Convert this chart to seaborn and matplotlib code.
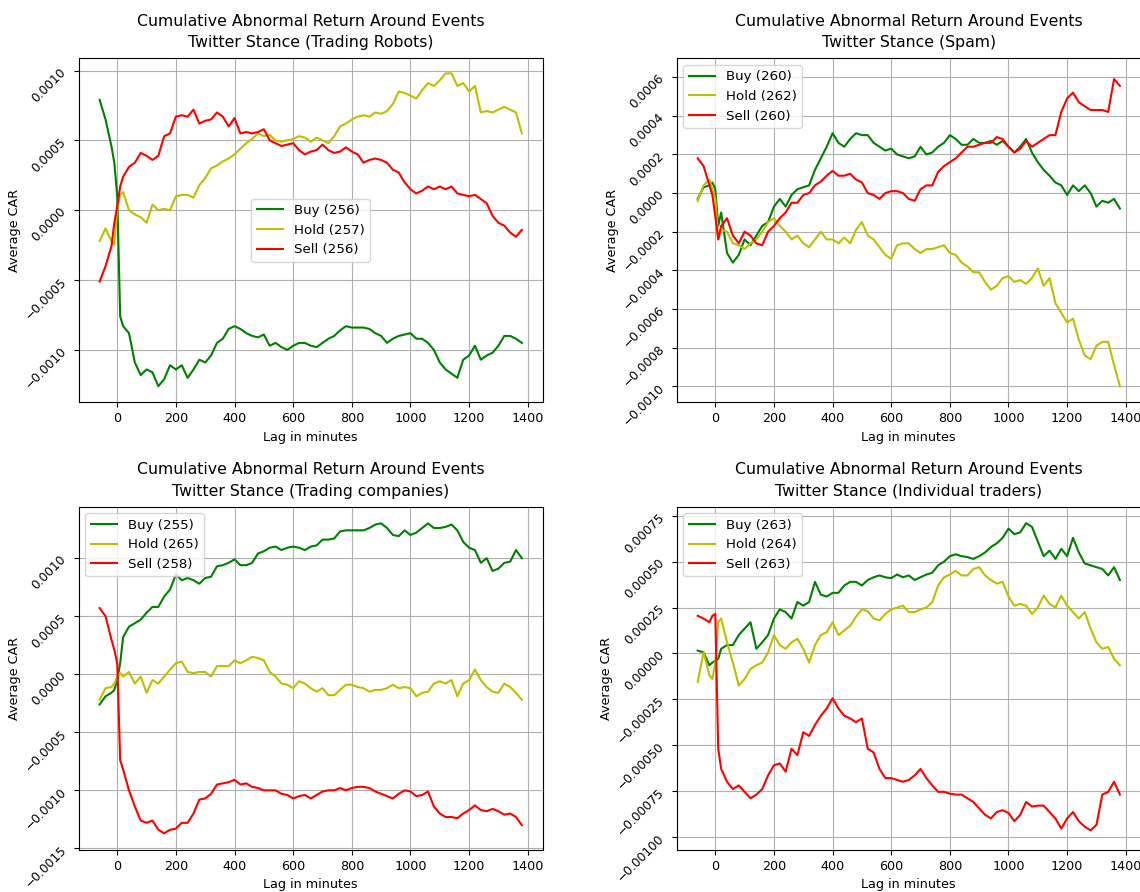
import matplotlib
matplotlib.use("Agg")
import matplotlib.pyplot as plt
import numpy as np
import pandas as pd
import seaborn as sns

lags = [-60, -40, -20, -10, 0, 10] + list(range(20, 1400, 20))

# values in units of 1e-4
robots_buy = [7.9, 6.5, 4.6, 3.4, 1.0, -7.6,
              -8.3, -8.8, -10.9, -11.8, -11.4, -11.6, -12.6, -12.1, -11.1, -11.4,
              -11.1, -12.0, -11.4, -10.7, -10.9, -10.4, -9.5, -9.2, -8.5, -8.3,
              -8.5, -8.8, -9.0, -9.1, -8.9, -9.7, -9.5, -9.8, -10.0, -9.7,
              -9.5, -9.5, -9.7, -9.8, -9.5, -9.2, -9.0, -8.6, -8.3, -8.4,
              -8.4, -8.4, -8.5, -8.8, -9.0, -9.5, -9.2, -9.0, -8.9, -8.8,
              -9.2, -9.2, -9.5, -10.0, -10.9, -11.4, -11.7, -12.0, -10.7, -10.4,
              -9.7, -10.7, -10.4, -10.2, -9.7, -9.0, -9.0, -9.2, -9.5]
robots_hold = [-2.2, -1.3, -2.2, -2.5, 0.2, 1.1,
               1.3, 0.0, -0.3, -0.5, -0.9, 0.4, 0.0, 0.1, 0.0, 1.0,
               1.1, 1.1, 0.9, 1.8, 2.3, 3.0, 3.2, 3.5, 3.7, 4.0,
               4.4, 4.8, 5.1, 5.5, 5.3, 5.4, 5.0, 4.9, 5.0, 5.1,
               5.3, 5.2, 4.9, 5.2, 5.0, 4.8, 5.3, 6.0, 6.2, 6.5,
               6.7, 6.8, 6.7, 7.0, 6.9, 7.1, 7.6, 8.5, 8.4, 8.2,
               8.0, 8.6, 9.1, 8.9, 9.3, 9.8, 9.8, 8.9, 9.1, 8.5,
               8.9, 7.0, 7.1, 7.0, 7.2, 7.4, 7.2, 7.0, 5.5]
robots_sell = [-5.1, -4.0, -2.6, -0.9, 0.3, 1.7,
               2.4, 3.1, 3.4, 4.1, 3.9, 3.6, 3.9, 5.3, 5.5, 6.7,
               6.8, 6.7, 7.2, 6.2, 6.4, 6.5, 7.0, 6.7, 6.0, 6.6,
               5.5, 5.6, 5.5, 5.6, 5.8, 5.0, 4.8, 4.6, 4.7, 4.8,
               4.3, 4.0, 4.2, 4.3, 4.7, 4.3, 4.1, 4.2, 4.5, 4.2,
               4.0, 3.4, 3.6, 3.7, 3.6, 3.4, 2.9, 2.7, 2.0, 1.5,
               1.2, 1.4, 1.7, 1.5, 1.7, 1.5, 1.7, 1.2, 1.1, 1.0,
               1.1, 0.8, 0.5, -0.4, -0.9, -1.1, -1.6, -1.9, -1.4]

spam_buy = [-0.3, 0.3, 0.4, 0.55, 0.2, -1.7,
            -1.0, -3.1, -3.6, -3.2, -2.4, -2.7, -2.2, -1.7, -1.5, -0.7,
            -0.3, -0.7, -0.1, 0.2, 0.3, 0.4, 1.2, 1.8, 2.4, 3.1,
            2.6, 2.4, 2.8, 3.1, 3.0, 3.0, 2.6, 2.4, 2.2, 2.3,
            2.0, 1.9, 1.8, 1.9, 2.4, 2.0, 2.1, 2.4, 2.6, 3.0,
            2.8, 2.5, 2.5, 2.8, 2.6, 2.6, 2.7, 2.5, 2.7, 2.4,
            2.1, 2.4, 2.8, 2.1, 1.6, 1.2, 0.9, 0.55, 0.4, -0.1,
            0.4, 0.1, 0.4, 0.0, -0.7, -0.4, -0.5, -0.3, -0.8]
spam_hold = [-0.4, 0.4, 0.7, 0.2, -0.3, -2.4,
             -1.9, -2.0, -2.6, -2.7, -2.9, -2.6, -2.4, -2.0, -1.5, -1.3,
             -1.7, -2.0, -2.4, -2.2, -2.6, -2.8, -2.4, -2.0, -2.4, -2.4,
             -2.6, -2.3, -2.6, -1.9, -1.5, -2.2, -2.4, -2.8, -3.2, -3.4,
             -2.7, -2.6, -2.6, -2.9, -3.1, -2.9, -2.9, -2.8, -2.7, -3.1,
             -3.2, -3.6, -3.8, -4.1, -4.1, -4.6, -5.0, -4.8, -4.4, -4.3,
             -4.6, -4.5, -4.7, -4.4, -3.9, -4.8, -4.4, -5.7, -6.2, -6.7,
             -6.5, -7.6, -8.4, -8.6, -7.9, -7.7, -7.7, -8.9, -10.0]
spam_sell = [1.8, 1.4, 0.4, -0.1, -1.2, -2.4,
             -1.7, -1.3, -2.2, -2.6, -2.0, -2.2, -2.6, -2.7, -2.0, -1.7,
             -1.3, -1.0, -0.5, -0.5, -0.1, 0.0, 0.4, 0.6, 0.9, 1.15,
             0.9, 0.9, 1.0, 0.7, 0.55, 0.0, -0.1, -0.3, 0.0, 0.1,
             0.1, 0.0, -0.3, -0.4, 0.2, 0.4, 0.4, 1.1, 1.4, 1.6,
             1.8, 2.1, 2.4, 2.4, 2.5, 2.6, 2.6, 2.9, 2.8, 2.4,
             2.1, 2.3, 2.7, 2.4, 2.6, 2.8, 3.0, 3.0, 4.2, 4.9,
             5.2, 4.7, 4.5, 4.3, 4.3, 4.3, 4.2, 5.9, 5.55]

companies_buy = [-2.6, -1.9, -1.6, -1.35, -0.5, 0.95,
                 3.2, 4.1, 4.4, 4.7, 5.3, 5.8, 5.8, 6.7, 7.3, 8.6,
                 8.1, 8.3, 8.1, 7.8, 8.3, 8.4, 9.3, 9.4, 9.6, 9.9,
                 9.4, 9.4, 9.6, 10.4, 10.6, 10.9, 11.0, 10.7, 10.9, 11.0,
                 10.9, 10.7, 11.0, 11.1, 11.6, 11.6, 11.7, 12.3, 12.4, 12.4,
                 12.4, 12.4, 12.6, 12.9, 13.0, 12.6, 12.0, 11.9, 12.4, 12.0,
                 12.2, 12.6, 13.0, 12.6, 12.6, 12.7, 12.9, 12.4, 11.4, 10.9,
                 10.7, 9.6, 10.0, 8.9, 9.1, 9.6, 9.7, 10.7, 10.0]
companies_hold = [-2.2, -1.2, -1.1, -0.8, -0.2, 0.1,
                  -0.2, 0.2, -0.8, -0.2, -1.6, -0.5, -0.8, -0.2, 0.4, 0.95,
                  1.1, 0.2, 0.1, 0.2, 0.2, -0.2, 0.7, 0.7, 0.7, 1.2,
                  0.95, 1.2, 1.5, 1.4, 1.2, 0.2, -0.2, -0.8, -0.9, -1.2,
                  -0.6, -0.8, -1.2, -1.5, -1.2, -1.8, -1.8, -1.35, -0.9, -0.9,
                  -1.1, -1.2, -1.5, -1.35, -1.35, -1.2, -0.9, -1.2, -1.1, -1.2,
                  -1.9, -1.6, -1.5, -0.8, -0.6, -0.8, -0.5, -1.9, -0.8, -0.5,
                  0.4, -0.5, -1.1, -1.5, -1.6, -0.8, -1.1, -1.6, -2.2]
companies_sell = [5.7, 5.0, 3.0, 2.1, 0.95, -7.4,
                  -8.2, -10.0, -11.4, -12.6, -12.8, -12.6, -13.4, -13.7, -13.4, -13.3,
                  -12.8, -12.8, -12.0, -10.8, -10.7, -10.3, -9.5, -9.4, -9.3, -9.1,
                  -9.5, -9.4, -9.7, -9.8, -10.0, -10.0, -10.0, -10.3, -10.4, -10.7,
                  -10.5, -10.4, -10.7, -10.4, -10.1, -10.0, -10.0, -9.8, -10.0, -9.8,
                  -9.7, -9.7, -9.8, -10.1, -10.3, -10.5, -10.7, -10.3, -10.0, -10.1,
                  -10.5, -10.4, -10.1, -11.4, -12.0, -12.3, -12.3, -12.4, -12.0, -11.7,
                  -11.3, -11.7, -11.8, -11.6, -11.8, -12.1, -12.0, -12.3, -13.0]

indiv_buy = [0.15, 0.05, -0.65, -0.5, -0.4, -0.3,
             0.25, 0.45, 0.45, 1.0, 1.35, 1.7, 0.25, 0.6, 1.0, 1.9,
             2.4, 2.25, 1.9, 2.8, 2.6, 2.8, 3.9, 3.2, 3.1, 3.3,
             3.3, 3.7, 3.9, 3.9, 3.7, 4.0, 4.15, 4.25, 4.15, 4.1,
             4.3, 4.15, 4.25, 4.0, 4.15, 4.3, 4.4, 4.8, 5.0, 5.3,
             5.4, 5.3, 5.25, 5.15, 5.3, 5.5, 5.8, 6.0, 6.3, 6.8,
             6.5, 6.6, 7.1, 6.9, 6.1, 5.3, 5.6, 5.15, 5.7, 5.3,
             6.3, 5.5, 4.9, 4.8, 4.7, 4.6, 4.25, 4.7, 4.0]
indiv_hold = [-1.55, 0.05, -1.2, -1.4, -0.5, 1.7,
              1.9, 0.6, -0.5, -1.75, -1.4, -0.85, -0.65, -0.5, 0.05, 1.0,
              0.45, 0.25, 0.6, 0.8, 0.25, -0.5, 0.45, 1.0, 1.15, 1.7,
              1.0, 1.25, 1.5, 2.0, 2.4, 2.3, 1.9, 1.8, 2.15, 2.4,
              2.5, 2.6, 2.25, 2.25, 2.4, 2.5, 2.8, 3.7, 4.15, 4.3,
              4.5, 4.25, 4.25, 4.6, 4.7, 4.25, 4.0, 3.8, 3.9, 3.1,
              2.6, 2.7, 2.6, 2.15, 2.5, 3.15, 2.7, 2.5, 3.15, 2.6,
              2.25, 1.9, 2.25, 1.35, 0.6, 0.25, 0.35, -0.3, -0.65]
indiv_sell = [2.05, 1.9, 1.7, 2.05, 2.15, -5.2,
              -6.3, -7.0, -7.4, -7.2, -7.55, -7.9, -7.7, -7.4, -6.65, -6.1,
              -6.0, -6.45, -5.2, -5.55, -4.3, -4.5, -3.9, -3.4, -3.0, -2.45,
              -3.0, -3.4, -3.55, -3.75, -3.55, -5.2, -5.4, -6.3, -6.8, -6.8,
              -6.9, -7.0, -6.9, -6.65, -6.3, -6.8, -7.2, -7.55, -7.55, -7.65,
              -7.7, -7.7, -7.9, -8.1, -8.45, -8.8, -9.0, -8.65, -8.55, -8.7,
              -9.15, -8.8, -8.1, -8.35, -8.3, -8.3, -8.65, -9.0, -9.55, -9.0,
              -8.65, -9.15, -9.45, -9.65, -9.35, -7.7, -7.55, -7.0, -7.7]

groups = ["Trading Robots", "Spam", "Trading companies", "Individual traders"]
counts = {
    "Trading Robots": (256, 257, 256),
    "Spam": (260, 262, 260),
    "Trading companies": (255, 265, 258),
    "Individual traders": (263, 264, 263),
}
series = {
    "Trading Robots": (robots_buy, robots_hold, robots_sell),
    "Spam": (spam_buy, spam_hold, spam_sell),
    "Trading companies": (companies_buy, companies_hold, companies_sell),
    "Individual traders": (indiv_buy, indiv_hold, indiv_sell),
}
stances = ["Buy", "Hold", "Sell"]
colors = ["g", "y", "r"]

# layout (figure fractions)
positions = {
    "Trading Robots": [0.0689, 0.549, 0.4074, 0.3857],
    "Spam": [0.5935, 0.549, 0.4074, 0.3857],
    "Trading companies": [0.0689, 0.0471, 0.4074, 0.3849],
    "Individual traders": [0.5935, 0.0471, 0.4074, 0.3849],
}
ylims = {
    "Trading Robots": (-0.001375, 0.001088),
    "Spam": (-0.001083, 0.000698),
    "Trading companies": (-0.001514, 0.001444),
    "Individual traders": (-0.001072, 0.0008),
}
legend_loc = {
    "Trading Robots": "center",
    "Spam": "upper left",
    "Trading companies": "upper left",
    "Individual traders": "upper left",
}

plt.rcParams["font.family"] = ["DejaVu Sans"]
fs = 8.8

fig = plt.figure(figsize=(11.4, 8.92), dpi=100)

for g in groups:
    ax = fig.add_axes(positions[g])
    for stance, vals, n, c in zip(stances, series[g], counts[g], colors):
        df = pd.DataFrame({"lag": lags, "car": np.array(vals) * 1e-4})
        sns.lineplot(data=df, x="lag", y="car", ax=ax, color=c,
                     label=f"{stance} ({n})", estimator=None, linewidth=1.5)
    ax.set_xlim(-132, 1452)
    ax.set_ylim(*ylims[g])
    ax.set_xticks([0, 200, 400, 600, 800, 1000, 1200, 1400])
    ax.grid(True, color="#b0b0b0", linewidth=0.8)
    ax.tick_params(axis="y", labelrotation=45, labelsize=fs)
    ax.tick_params(axis="x", labelsize=9.2)
    ax.set_xlabel("Lag in minutes", fontsize=9.2)
    ax.set_ylabel("Average CAR", fontsize=9.2, labelpad=1)
    ax.set_title(f"Cumulative Abnormal Return Around Events\nTwitter Stance ({g})",
                 fontsize=11.3, linespacing=1.55, pad=8)
    ax.legend(loc=legend_loc[g], fontsize=9.6)

fig.savefig("out.png", dpi=100)
